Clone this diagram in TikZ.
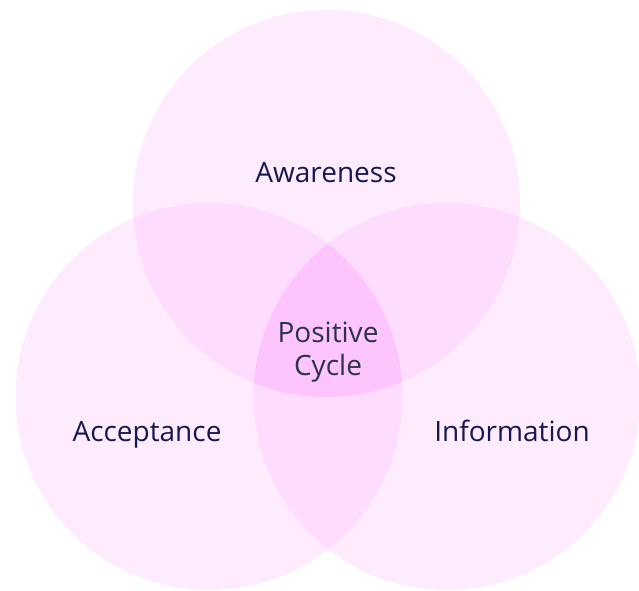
\documentclass[tikz,border=0pt]{standalone}
\usepackage{fontspec}
\setmainfont{Open Sans}
\begin{document}
\begin{tikzpicture}[x=1pt, y=-1pt]
    % Define colors from venn graphic
    \definecolor{venpink}{RGB}{250, 110, 250}
    \definecolor{labelnavy}{RGB}{22, 24, 80}
    \definecolor{centerslate}{RGB}{45, 51, 72}
    \tikzset{
        setcircle/.style={circle, minimum size=387pt, inner sep=0pt, fill=venpink, fill opacity=0.13},
        setlabel/.style={text=labelnavy, font=\fontsize{28}{33}\selectfont},
    }
    \useasboundingbox (0,0) rectangle (639,590);
    
    % The three sets
    \node[setcircle] (AW) at (326.5,203.5) {};
    \node[setcircle] (AC) at (209,396.5) {};
    \node[setcircle] (IN) at (447,396.5) {};
    
    % Deeper tint where all three meet
    \begin{scope}
        \clip (AW.center) circle[radius=193.5pt];
        \clip (AC.center) circle[radius=193.5pt];
        \fill[venpink, fill opacity=0.1] (IN.center) circle[radius=193.5pt];
    \end{scope}
    
    % Set labels (placed on their baselines)
    \node[setlabel, anchor=base] (AWlabel) at (326,182) {Awareness};
    \node[setlabel, anchor=base] (AClabel) at (147,441) {Acceptance};
    \node[setlabel, anchor=base] (INlabel) at (512,441) {Information};
    
    % Centre
    \node[setlabel, text=centerslate, align=center] (PC) at (328,352) {Positive\\Cycle};
    
\end{tikzpicture}
\end{document}
